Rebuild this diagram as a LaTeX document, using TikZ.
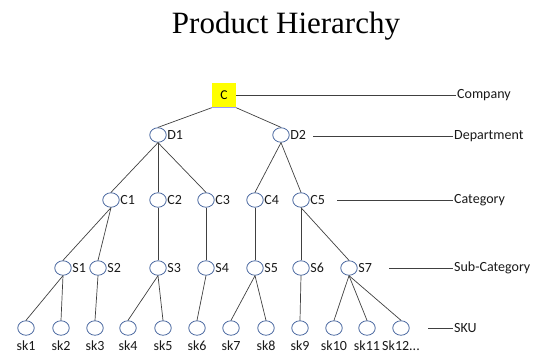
\documentclass[tikz,border=0pt]{standalone}
\usepackage{fontspec}
\setmainfont{Liberation Serif}
\newfontfamily\calib{Carlito}
\usetikzlibrary{shapes.geometric}
\definecolor{ringblue}{HTML}{4A68A0}
\definecolor{boxyellow}{HTML}{FFFF00}
\tikzset{
  lbl/.style={font=\calib\fontsize{14}{15}\selectfont, text=black!90, inner sep=0.5pt},
  item/.style={ellipse, draw=ringblue, fill=white, line width=0.8pt,
    minimum width=16.5pt, minimum height=14.5pt, inner sep=0pt},
  edge/.style={draw=black!75, line width=0.7pt},
  lvl/.style={lbl, anchor=west, inner sep=1pt},
}
\begin{document}
\begin{tikzpicture}[x=1pt, y=-1pt]
    \useasboundingbox (0,0) rectangle (533,360);
    % Title
    \node[anchor=base, inner sep=0] (title) at (286,33)
        {\fontsize{31}{33}\selectfont Product Hierarchy};
    % Company box
    \node[fill=boxyellow, minimum width=24pt, minimum height=25pt, inner sep=0,
          font=\calib\fontsize{13.5}{14}\selectfont] (c) at (224,95) {C};
    \draw[blue!40, line width=1.2pt] (c.south west) -- (c.south east);
    % Departments
    \foreach \n/\x/\t in {d1/158/D1, d2/281/D2}
        \node[item, label={[lbl, label distance=0pt]right:\t}] (\n) at (\x,135) {};
    % Categories
    \foreach \n/\x/\t in {c1/111/C1, c2/158/C2, c3/206/C3, c4/255/C4, c5/301/C5}
        \node[item, label={[lbl, label distance=0pt]right:\t}] (\n) at (\x,200) {};
    % Sub-categories
    \foreach \n/\x/\t in {s1/63/S1, s2/98/S2, s3/158/S3, s4/206/S4,
                          s5/255/S5, s6/301/S6, s7/349/S7}
        \node[item, label={[lbl, label distance=0pt]right:\t}] (\n) at (\x,268) {};
    % SKUs
    \foreach \n/\x in {sk1/26, sk2/61, sk3/95, sk4/128, sk5/163, sk6/197,
                       sk7/231, sk8/266, sk9/300, sk10/334, sk11/367}
        \node[item, label={[lbl, label distance=4pt]below:\n}] (\n) at (\x,328) {};
    \node[item, label={[lbl, label distance=4pt]below:Sk12...}] (sk12) at (401,328) {};
    % Edges
    \draw[edge] (c.south west) -- (d1.north);
    \draw[edge] (c.south east) -- (d2.north);
    \foreach \a/\b in {d1/c1, d1/c2, d1/c3, d2/c4, d2/c5,
                       c1/s1, c1/s2, c2/s3, c3/s4, c4/s5, c5/s6, c5/s7,
                       s1/sk1, s1/sk2, s2/sk3, s3/sk4, s3/sk5, s4/sk6,
                       s5/sk7, s5/sk8, s6/sk9, s7/sk10, s7/sk11, s7/sk12}
        \draw[edge] (\a.south) -- (\b.north);
    % Level names
    \node[lvl] (lcomp) at (456,95) {Company};
    \node[lvl] (ldept) at (453,136) {Department};
    \node[lvl] (lcat) at (453,200) {Category};
    \node[lvl] (lsub) at (453,268) {Sub-Category};
    \node[lvl] (lsku) at (453,328) {SKU};
    \coordinate (dstart) at (313,136);
    \coordinate (cstart) at (337,200);
    \coordinate (sstart) at (389,268);
    \coordinate (kstart) at (428,328);
    \draw[edge] (c.east) -- (lcomp.west);
    \draw[edge] (dstart) -- (ldept.west);
    \draw[edge] (cstart) -- (lcat.west);
    \draw[edge] (sstart) -- (lsub.west);
    \draw[edge] (kstart) -- (lsku.west);
\end{tikzpicture}
\end{document}
